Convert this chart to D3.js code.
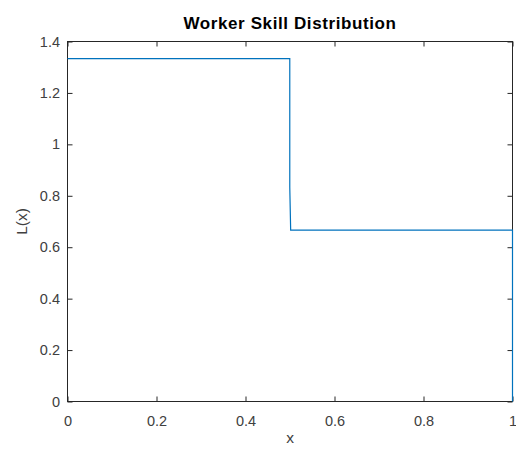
<!DOCTYPE html>
<html><head><meta charset="utf-8">
<script src="https://cdn.jsdelivr.net/npm/d3@7"></script>
<style>body{margin:0;background:#fff;} svg{display:block;font-family:"Liberation Sans",Arial,Helvetica,sans-serif;}</style>
</head><body>
<svg id="c" width="516" height="455"></svg>
<script>
const xs = [0, 0.4995, 0.4995, 0.5015, 1, 1];
const ys = [1.3333, 1.3333, 0.8333, 0.6667, 0.6667, 0];
const xTicks = [0, 0.2, 0.4, 0.6, 0.8, 1];
const yTicks = [0, 0.2, 0.4, 0.6, 0.8, 1, 1.2, 1.4];
const titleText = "Worker Skill Distribution";
const xLabel = "x", yLabel = "L(x)";

const svg = d3.select("#c");
const L = 67.5, R = 512.5, T = 41.5, B = 401.5;
const x = d3.scaleLinear().domain([0,1]).range([L,R]);
const y = d3.scaleLinear().domain([0,1.4]).range([B,T]);
const axisColor = "#262626";
const tl = 5;

function styleAxis(g){
  g.selectAll(".domain").remove();
  g.selectAll("line").attr("stroke", axisColor).attr("stroke-width",1);
  g.selectAll("text").attr("fill", "#404040").attr("font-size","14.5px");
}
svg.append("g").attr("transform",`translate(0,${B})`)
  .call(d3.axisBottom(x).tickValues(xTicks).tickFormat(d3.format("~g")).tickSizeInner(-tl).tickSizeOuter(0).tickPadding(14))
  .call(styleAxis);
svg.append("g").attr("transform",`translate(0,${T})`)
  .call(d3.axisTop(x).tickValues(xTicks).tickFormat("").tickSizeInner(-tl).tickSizeOuter(0))
  .call(styleAxis);
svg.append("g").attr("transform",`translate(${L},0)`)
  .call(d3.axisLeft(y).tickValues(yTicks).tickFormat(d3.format("~g")).tickSizeInner(-tl).tickSizeOuter(0).tickPadding(7.5))
  .call(styleAxis);
svg.append("g").attr("transform",`translate(${R},0)`)
  .call(d3.axisRight(y).tickValues(yTicks).tickFormat("").tickSizeInner(-tl).tickSizeOuter(0))
  .call(styleAxis);

svg.append("rect").attr("x",L).attr("y",T).attr("width",R-L).attr("height",B-T)
  .attr("fill","none").attr("stroke",axisColor).attr("stroke-width",1);

const pts = xs.map((v,i)=>[v, ys[i]]);
svg.append("path").datum(pts)
  .attr("d", d3.line().x(d=>x(d[0])).y(d=>y(d[1])))
  .attr("fill","none").attr("stroke","#0072BD").attr("stroke-width",1.2);

svg.append("text").attr("x",(L+R)/2).attr("y",29).attr("text-anchor","middle")
  .attr("font-size","17px").attr("letter-spacing","0.6px").attr("font-weight","bold").attr("fill","#000").text(titleText);
svg.append("text").attr("x",(L+R)/2).attr("y",442.5).attr("text-anchor","middle")
  .attr("font-size","15.5px").attr("fill","#404040").text(xLabel);
svg.append("text").attr("transform",`translate(27,${(T+B)/2}) rotate(-90)`).attr("text-anchor","middle")
  .attr("font-size","15.5px").attr("fill","#404040").text(yLabel);
</script>
</body></html>
